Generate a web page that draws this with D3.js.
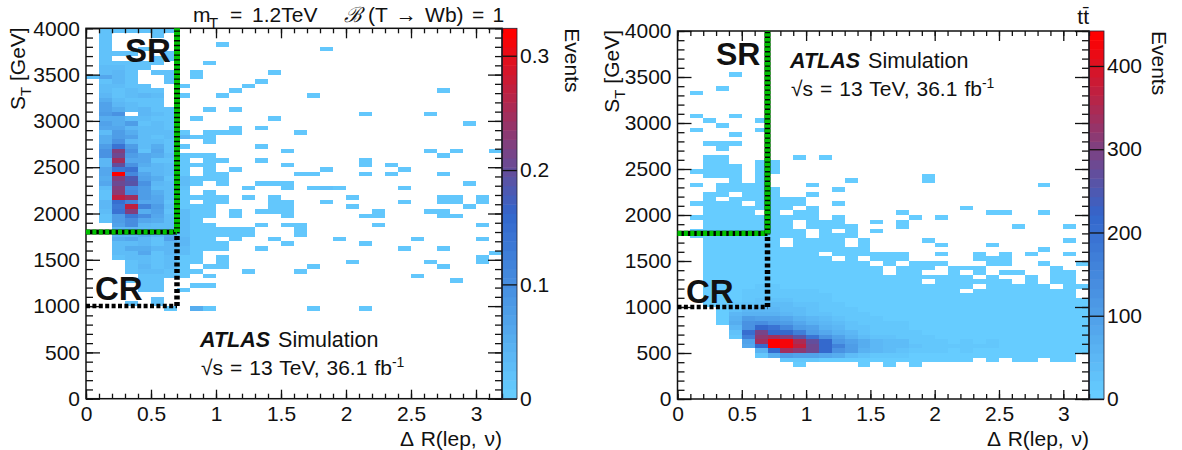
<!DOCTYPE html>
<html>
<head>
<meta charset="utf-8">
<script src="https://cdnjs.cloudflare.com/ajax/libs/d3/7.8.5/d3.min.js"></script>
<style>
  body { margin: 0; background: #fff; }
  text { font-family: "Liberation Sans", Arial, sans-serif; fill: #111; }
</style>
</head>
<body>
<div id="chart"></div>
<script>
// Tick labels
const xTicks = [0, 0.5, 1, 1.5, 2, 2.5, 3];
const yTicks = [0, 500, 1000, 1500, 2000, 2500, 3000, 3500, 4000];
const sigZTicks = [0, 0.1, 0.2, 0.3];
const ttZTicks = [0, 100, 200, 300, 400];
const sigZMax = 0.324;
const ttZMax = 442;

// Left plot, dR bins 0-0.7, rows from ST 3950 downwards, in 0.01 events
const sigCore = [
  [0,2,2,2,2,2,2],[0,2,0,0,0,2,0],[0,2,0,0,0,0,0],[0,2,0,0,0,0,0],[0,2,0,0,2,0,0],[0,2,2,2,0,0,2],
  [0,2,0,0,0,2,2],[0,2,2,2,2,2,0],[0,3,3,2,2,0,0],[0,3,4,2,0,2,2],[2,6,4,2,0,0,2],[0,2,4,2,0,0,2],
  [0,3,3,2,2,0,0],[0,3,2,3,2,2,0],[0,4,2,3,4,3,0],[0,5,3,2,2,2,0],[0,7,4,3,2,2,0],[0,7,5,3,4,2,2],
  [0,8,9,0,4,3,2],[0,5,5,3,3,2,2],[0,7,5,8,2,3,2],[0,6,6,4,3,3,2],[0,3,8,5,3,3,3],[0,5,8,7,3,2,3],
  [0,5,9,4,3,3,2],[0,8,14,8,3,5,2],[0,9,22,9,2,6,2],[0,9,21,8,6,5,3],[0,4,25,6,6,2,2],[0,4,20,9,5,4,3],
  [0,6,13,14,4,4,3],[0,6,32,11,6,4,3],[0,5,22,18,7,5,2],[0,6,21,19,9,4,3],[0,3,22,10,8,3,3],[0,2,23,11,8,5,3],
  [0,2,27,25,8,6,3],[0,4,15,12,6,6,2],[0,4,13,27,12,8,3],[0,3,14,22,5,7,2],[0,2,8,13,10,6,3],[0,2,8,10,6,5,3],
  [0,0,7,10,4,3,3],[0,0,4,4,3,3,3],[0,0,4,4,5,4,6],[0,0,5,6,4,2,7],[0,0,3,3,4,2,4],[0,0,3,5,5,4,4],
  [0,0,3,3,6,2,4],[0,0,2,3,3,2,3],[0,0,0,2,3,2,3],[0,0,0,2,4,2,3],[0,0,0,2,3,3,2],[0,0,0,0,2,2,2],
  [0,0,0,2,2,2,0],[0,0,0,0,2,2,0],[0,0,0,0,2,2,0],[0,0,0,0,0,0,0],[0,0,0,0,0,2,0],[0,0,0,2,0,2,0]
];

// Left plot, isolated cells: ST of the row and dR bin numbers
const sigSparseST = [3800,3750,3600,3500,3450,3400,3350,3300,3250,3100,3050,3000,2950,2900,2850,2800,2750,2700,2650,2600,2550,2500,2450,2400,2350,2300,2250,2200,2150,2100,2050,2000,1950,1900,1850,1800,1750,1700,1650,1600,1550,1500,1450,1400,1350,1300,1250,1200,1150,950];
const sigSparseBins = [
  [10],[18],[9],[8,14],[8],[13],[7,12],[11,27],[7,10,17],[9,11],[21,26],[8,14],[29],[11,13],
  [7,9,10,11,16],[7,8,9],[9],[7,13],[15,26,28,31],[7,8,9,27],[7,9,10,13,21],[7,8,9,15,21,23],
  [7,9,11,18,24],[7,9,10,16,17,21,23,27],[7,8,9,10],[7,8,10,13,14,15,29],[7,12,15,17,18,19,24],
  [7,9],[7,8,9,10,12,14,20,27,28,30],[7,9,10,14,15,18,24,27,28,30],[7,8,9,14,15,20,29],
  [7,8,9,11,13,14,15,22,26,27],[7,8,9,11,15,21,22,27,28],[7,8],[7,8,9,13,15,16,22,30],
  [7,8,9,10,11,12,16],[7,8,9,10,11,12,16],[7,8,9,11,14,19,25,30],[7,8,9,10,15,21],
  [7,8,9,10,13,24,27],[7,8,31],[7,8,10,30],[7,8,10,20,26,30],[7,9,10,17,27],[7,8,12,16],
  [7,9,25],[28],[8,9],[7],[6,8,9,17,21]
];
const sigSparseValue = 0.012;
// the isolated cells that read darker: bin, ST, events
const sigSparseDark = [[7,2800,0.04],[7,2350,0.03],[7,2300,0.03],[7,2250,0.02],[7,2000,0.03],[7,1950,0.03],[7,1900,0.03],[7,1850,0.03],[7,1800,0.03],[7,1750,0.03],[7,1700,0.04],[7,1650,0.04],[7,1600,0.03],[7,1550,0.03],[8,950,0.05],[18,2250,0.02]];

// Right plot, isolated cells above ST 1700
const ttSparseST = [3500,3350,3300,3050,3000,2950,2900,2850,2750,2700,2600,2550,2500,2450,2400,2350,2300,2250,2200,2150,2100,2050,2000,1950,1900,1850,1800,1750];
const ttSparseBins = [
  [4],[3],[1],[1,4],[2,6],[3],[1,6],[4],[2,3,4],[3],[2,3,9,11],[2,3,6,7],[2,3,4,6,7],[1,2,3,4,6,7],
  [2,3,4,6,19],[4,6,13,19],[1,3,4,5,6,10,28],[3,4,5,6,7,12],[2,3,5,6,7,10],[2,4,5,6,7,8,9],
  [1,2,3,4,6,7,8,9,12],[2,3,4,5,6,7,8,10,22],[2,3,4,5,7,9,10,17,24,25,28],
  [1,2,3,4,5,6,7,8,9,10,12,18,20],[2,3,4,5,6,7,8,10,11,12,15,17],[2,3,4,5,6,7,8,10,11,12,13,17,26,30],
  [1,2,3,4,5,6,7,8,9,11,13,15],[1,2,3,4,5,6,7,8,9,11,12,13]
];
const ttSparseValue = 2;

// Right plot, rows from ST 1700 downwards, all dR bins, in events
const ttCore = [
  [0,0,2,2,3,3,3,3,0,2,2,2,2,0,2,0,0,0,0,2,0,0,0,0,0,0,0,0,0,0,2,0],
  [0,0,2,3,3,3,3,3,0,2,2,2,2,0,2,0,0,0,0,0,2,0,0,0,2],
  [0,0,3,3,3,4,4,3,3,3,2,2,2,2,2,0,0,0,0,0,0,0,0,0,0,0,0,0,2],
  [0,0,3,3,4,4,4,4,3,3,3,0,2,2,2,2,2,2,0,0,2,0,0,2,0,2,0,2,0,0,2],
  [0,0,3,4,4,4,5,5,4,3,3,3,0,2,0,2,2,2,0,0,0,0,0,2,2,2],
  [0,0,4,4,5,5,5,5,4,4,3,3,3,2,2,0,2,0,2,2,2,0,0,0,2,2,0,0,2,0,0,2],
  [0,0,4,5,5,6,6,5,5,4,4,3,3,3,2,2,0,2,2,2,0,2,2,2,0,0,0,0,0,2],
  [0,0,4,5,6,6,7,6,5,5,4,4,3,3,3,2,0,2,2,0,0,2,0,2,0,2,2,0,0,2,2],
  [0,0,5,5,6,7,8,7,6,5,5,4,4,3,3,3,2,2,2,2,2,2,2,0,2,0,0,2,0,2,2],
  [0,0,5,6,7,8,9,8,7,6,5,5,4,4,3,3,3,3,2,0,2,2,2,2,2,2,0,2,0,2,2],
  [0,0,5,6,8,10,12,12,11,9,8,6,5,5,4,4,3,3,3,3,3,3,2,0,2,2,2,2,2,0,2,2],
  [0,0,6,7,9,12,15,16,16,13,12,9,7,6,5,5,4,4,3,3,3,3,0,3,3,2,2,2,2,2,2,0],
  [0,0,6,7,10,15,20,22,22,18,15,12,9,7,6,5,5,4,4,3,3,3,3,3,3,3,3,2,2,2,2,0],
  [0,0,7,8,11,18,25,28,28,22,20,15,11,9,7,6,5,5,4,4,4,3,3,3,3,3,3,3,2,2,2,2],
  [0,0,7,8,13,25,32,38,40,28,25,18,12,10,8,7,6,5,5,4,4,4,3,3,3,3,3,3,3,2,2,2],
  [0,0,0,5,30,45,45,45,40,35,25,22,18,13,10,8,7,6,6,5,4,4,4,4,3,3,3,3,3,3,2,2],
  [0,0,0,8,45,65,65,60,50,40,32,28,22,18,14,10,9,8,7,6,5,5,4,4,4,3,3,3,3,3,3,2],
  [0,0,0,10,60,100,90,90,80,65,50,40,30,22,18,12,11,10,8,7,6,5,5,5,4,4,4,3,3,3,3,3],
  [0,0,0,10,70,130,140,120,100,80,60,50,36,28,20,15,13,12,9,8,7,6,6,5,5,4,4,4,3,3,3,3],
  [0,0,0,0,50,130,210,190,150,110,90,60,45,32,25,18,16,14,11,9,8,7,7,6,6,5,5,4,4,3,3,3],
  [0,0,0,0,30,200,290,210,210,170,110,80,60,45,30,22,20,18,13,10,9,8,8,7,7,6,5,5,4,4,3,3],
  [0,0,0,0,20,170,320,340,300,260,190,130,90,60,40,28,25,22,15,12,10,9,9,8,9,7,6,6,5,5,4,4],
  [0,0,0,0,0,90,340,440,420,350,270,210,120,90,70,45,38,35,22,16,15,11,12,10,14,10,8,8,6,6,5,5],
  [0,0,0,0,0,80,220,440,430,370,280,220,160,110,75,50,42,38,24,18,15,12,13,12,14,10,8,8,6,6,5,5],
  [0,0,0,0,0,0,60,220,340,320,280,220,130,110,65,45,36,30,20,15,12,10,12,8,9,7,6,6,5,5,4,3],
  [0,0,0,0,0,0,20,70,110,90,90,80,70,40,30,20,18,15,10,8,6,5,8,5,6,5,4,4,3,3,3,0],
  [0,0,0,0,0,0,0,0,15,20,12,10,8,5,3,3,3,3,2,2,2,2,2,0,2,0,2,2,0,2,2,0],
  [0,0,0,0,0,0,0,0,0,10,0,0,0,0,2,0,2,0,2]
];

// Turn the lists above into cells
const sigCells = [];
sigCore.forEach((row, r) => row.forEach((v, b) => {
  if (v > 0) sigCells.push({ b: b, st: 3950 - 50 * r, v: v / 100 });
}));
sigSparseST.forEach((st, r) => sigSparseBins[r].forEach(b => {
  const dark = sigSparseDark.find(d => d[0] === b && d[1] === st);
  sigCells.push({ b: b, st: st, v: dark ? dark[2] : sigSparseValue });
}));

const ttCells = [];
ttSparseST.forEach((st, r) => ttSparseBins[r].forEach(b => {
  ttCells.push({ b: b, st: st, v: ttSparseValue });
}));
ttCore.forEach((row, r) => row.forEach((v, b) => {
  if (v > 0) ttCells.push({ b: b, st: 1700 - 50 * r, v: v });
}));

const svg = d3.select("#chart").append("svg")
  .attr("width", 1182)
  .attr("height", 450);

// Palette is stepped, light blue to blue to red
const nLevels = 40;
const ramp = d3.scaleLinear()
  .domain([0, 0.5, 1])
  .range(["#66ccff", "#3366cc", "#ff0000"]);
const levels = d3.range(nLevels).map(i => ramp(i / (nLevels - 1)));

function drawPanel(p) {
  const x = d3.scaleLinear().domain([0, 3.2]).range([p.left, p.right]);
  const y = d3.scaleLinear().domain([0, 4000]).range([p.bottom, p.top]);
  const z = d3.scaleQuantize().domain([0, p.zMax]).range(levels);
  const zy = d3.scaleLinear().domain([0, p.zMax]).range([p.bottom, p.top]);

  // Cells
  svg.append("g").selectAll("rect")
    .data(p.cells)
    .enter()
    .append("rect")
    .attr("x", d => x(d.b / 10))
    .attr("y", d => y(d.st + 50))
    .attr("width", x(0.1) - x(0))
    .attr("height", y(0) - y(50))
    .attr("fill", d => z(d.v))
    .attr("shape-rendering", "crispEdges");

  // Colour bar
  svg.append("g").selectAll("rect")
    .data(levels)
    .enter()
    .append("rect")
    .attr("x", p.right)
    .attr("width", 15)
    .attr("y", d => zy(z.invertExtent(d)[1]))
    .attr("height", d => zy(z.invertExtent(d)[0]) - zy(z.invertExtent(d)[1]) + 0.5)
    .attr("fill", d => d);

  // Major and minor ticks on all four sides, all pointing inwards
  const xMinor = d3.range(0, 3.21, 0.1);
  const yMinor = d3.range(0, 4001, 100);
  const noLabel = () => "";

  const axes = [
    [d3.axisBottom(x).tickValues(xMinor).tickSize(-5).tickFormat(noLabel), `translate(0,${p.bottom})`],
    [d3.axisTop(x).tickValues(xMinor).tickSize(-5).tickFormat(noLabel), `translate(0,${p.top})`],
    [d3.axisTop(x).tickValues(xTicks).tickSize(-10).tickFormat(noLabel), `translate(0,${p.top})`],
    [d3.axisLeft(y).tickValues(yMinor).tickSize(-7).tickFormat(noLabel), `translate(${p.left},0)`],
    [d3.axisRight(y).tickValues(yMinor).tickSize(-7).tickFormat(noLabel), `translate(${p.right},0)`],
    [d3.axisRight(y).tickValues(yTicks).tickSize(-14).tickFormat(noLabel), `translate(${p.right},0)`]
  ];
  axes.forEach(a => {
    const g = svg.append("g").attr("transform", a[1]).call(a[0].tickSizeOuter(0));
    g.select(".domain").remove();
    g.selectAll("line").attr("stroke", "#111").attr("stroke-width", 1.3);
  });

  // Labelled axes
  const xAxis = svg.append("g")
    .attr("transform", `translate(0,${p.bottom})`)
    .call(d3.axisBottom(x).tickValues(xTicks).tickFormat(String).tickSize(-9).tickSizeOuter(0).tickPadding(7));
  const yAxis = svg.append("g")
    .attr("transform", `translate(${p.left},0)`)
    .call(d3.axisLeft(y).tickValues(yTicks).tickFormat(String).tickSize(-14).tickSizeOuter(0).tickPadding(6));
  const zAxis = svg.append("g")
    .attr("transform", `translate(${p.right + 15},0)`)
    .call(d3.axisRight(zy).tickValues(p.zTicks).tickFormat(String).tickSize(-15).tickSizeOuter(0).tickPadding(3));

  [xAxis, yAxis, zAxis].forEach(g => {
    g.select(".domain").remove();
    g.selectAll("line").attr("stroke", "#111").attr("stroke-width", 1.3);
    g.selectAll("text")
      .style("font-family", '"Liberation Sans", Arial, sans-serif')
      .style("font-size", "21px")
      .attr("fill", "#111");
  });

  // Frames
  svg.append("rect")
    .attr("x", p.left).attr("y", p.top)
    .attr("width", p.right - p.left).attr("height", p.bottom - p.top)
    .attr("fill", "none").attr("stroke", "#111").attr("stroke-width", 1.5);
  svg.append("rect")
    .attr("x", p.right).attr("y", p.top)
    .attr("width", 15).attr("height", p.bottom - p.top)
    .attr("fill", "none").attr("stroke", "#223").attr("stroke-width", 0.8);

  // Region boundaries
  const line = (x1, y1, x2, y2, color, width, dash) => svg.append("line")
    .attr("x1", x(x1)).attr("y1", y(y1))
    .attr("x2", x(x2)).attr("y2", y(y2))
    .attr("stroke", color).attr("stroke-width", width)
    .attr("stroke-dasharray", dash);
  line(0, 1000, 0.7, 1000, "#000", 4.5, "4,2.4");
  line(0.7, 1000, 0.7, 1800, "#000", 5.5, "4,2.6");
  line(0, 1800, 0.7, 1800, "#000", 5.2, null);
  line(0, 1800, 0.7, 1800, "#00c000", 5.2, "4,2.4");
  line(0.7, 1800, 0.7, 4000, "#000", 6, null);
  line(0.7, 1800, 0.7, 4000, "#00c000", 6, "3.4,1.4");

  // Region names
  const big = (t, px, py, fs) => svg.append("text")
    .attr("x", px).attr("y", py)
    .attr("font-size", fs).attr("font-weight", "bold")
    .text(t);
  big("SR", p.sr[0], p.sr[1], p.sr[2]);
  big("CR", p.cr[0], p.cr[1], p.cr[2]);

  // ATLAS label
  const atlas = svg.append("text")
    .attr("x", p.atlas[0]).attr("y", p.atlas[1])
    .attr("font-size", 21.5);
  atlas.append("tspan").attr("font-weight", "bold").attr("font-style", "italic").text("ATLAS");
  atlas.append("tspan").attr("dx", 8).text("Simulation");

  const lumi = svg.append("text")
    .attr("x", p.atlas[0] + 1).attr("y", p.atlas[1] + 28)
    .attr("font-size", 21)
    .attr("word-spacing", 1.2);
  lumi.append("tspan").text("√s = 13 TeV, 36.1 fb");
  lumi.append("tspan").attr("dy", -8).attr("font-size", 14).text("-1");

  // Axis titles
  svg.append("text")
    .attr("x", p.right).attr("y", 446)
    .attr("text-anchor", "end")
    .attr("font-size", 21)
    .attr("word-spacing", 2)
    .text("Δ R(lep, ν)");

  const yTitle = svg.append("text")
    .attr("transform", `translate(${p.yTitleX},${p.top - 1}) rotate(-90)`)
    .attr("text-anchor", "end")
    .attr("font-size", 21);
  yTitle.append("tspan").text("S");
  yTitle.append("tspan").attr("dy", 6).attr("font-size", 15).text("T");
  yTitle.append("tspan").attr("dy", -6).text(" [GeV]");

  svg.append("text")
    .attr("transform", `translate(${p.right + 63},${p.top}) rotate(90)`)
    .attr("font-size", 21)
    .text("Events");
}

drawPanel({
  left: 86, right: 502, top: 28.3, bottom: 398.7,
  cells: sigCells, zMax: sigZMax, zTicks: sigZTicks,
  sr: [125, 62, 33], cr: [95, 300, 33], atlas: [200, 347], yTitleX: 25
});

drawPanel({
  left: 677.5, right: 1089, top: 31, bottom: 399,
  cells: ttCells, zMax: ttZMax, zTicks: ttZTicks,
  sr: [716, 65, 32], cr: [686, 303, 33], atlas: [790, 68], yTitleX: 619
});

// Texts above the plots
const titleSize = 21;
svg.append("text").attr("x", 193).attr("y", 22).attr("font-size", titleSize).text("m");
svg.append("text").attr("x", 209).attr("y", 28).attr("font-size", 15).text("T");
svg.append("text").attr("x", 230).attr("y", 22).attr("font-size", titleSize).attr("word-spacing", 4).text("= 1.2TeV");
svg.append("text").attr("x", 344).attr("y", 22).attr("font-size", titleSize)
  .style("font-family", '"DejaVu Serif", serif').style("font-style", "italic").text("ℬ");
svg.append("text").attr("x", 368).attr("y", 22).attr("font-size", titleSize).attr("word-spacing", 2.5).text("(T → Wb) = 1");
svg.append("text").attr("x", 1089).attr("y", 24).attr("text-anchor", "end").attr("font-size", titleSize).text("tt\u0304");
</script>
</body>
</html>
